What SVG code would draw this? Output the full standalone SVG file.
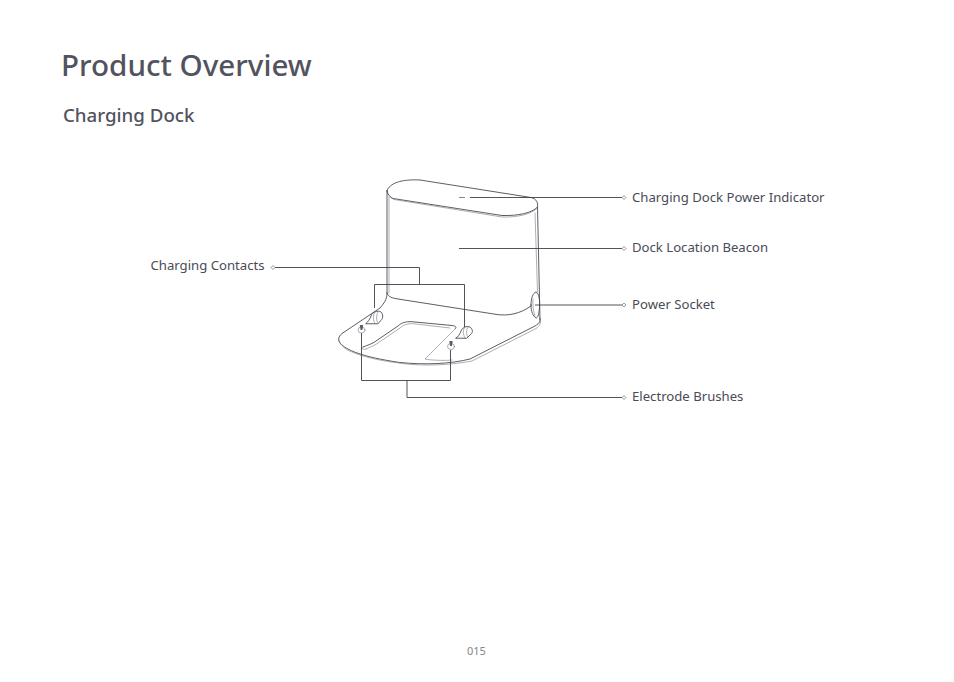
<svg xmlns="http://www.w3.org/2000/svg" width="954" height="682" viewBox="0 0 954 682">
<style>
text{font-family:"Noto Sans","Open Sans",sans-serif;fill:#4a4b57}
.l{font-size:13.15px}
.h{font-weight:500;fill:#52535e}
.d{fill:none;stroke:#4a4b55;stroke-width:.9;stroke-linejoin:round;stroke-linecap:round}
.f{fill:none;stroke:#77787f;stroke-width:.6;stroke-linecap:round}
.c{fill:none;stroke:#3f404a;stroke-width:.9}
.m{fill:#fff;stroke:#55565f;stroke-width:.6}
</style>
<rect width="954" height="682" fill="#fff"/>
<text class="h" x="61" y="76" font-size="29.6">Product Overview</text>
<text class="h" x="63" y="122" font-size="18.700">Charging Dock</text>
<g id="dock">
<path class="d" d="M387 191C389 183 402 179 420 180L531 197.500C537 199 538 203 537.500 207C532 213 518 216 502 215.500L393 198.500C390 197 388 195 387 191Z"/>
<path class="f" d="M387.500 193C389 196 391 198 394 199.500L502 217C518 217.500 532 214 537.500 208"/>
<path class="d" d="M387 191V293M537.500 207L540 320"/>
<path class="f" d="M389 197V293M535 213L537.500 292"/>
<path class="d" d="M387 293C388 297 392 298 398 299L497 314.500C508 316 520 314 531 306"/>
<path class="d" d="M387 293C387 300 384 303 380 308L342 333.500C338 337 338 340 340 343C346 350 362 357 400 362.500C425 365 450 364 470 359L535 326C540 323 540.500 321 540 318"/>
<path class="f" d="M338.500 338C339 343 342 346 346 349C360 357 385 362 412 364.500C435 366 456 364 472 361L536 328.500C540 326 541 323 540.500 320"/>
<path class="d" d="M531 305C531 298 533 293 536 292C539 293 540 300 539.500 307C539 314 538 318 536 318C533 316 531 312 531 305Z"/>
<path class="f" d="M533 299C532.500 304 533 310 535 316"/>
<path class="d" d="M366 323.500C368 322 370 319 371 316C372 312 378 310 381 312C383 314 383.500 318 381 320.500L378 323.500Z"/>
<path class="f" d="M375 312C372.500 316 373 320 375 323.500M378 312C376 316 376 320 378 323.500"/>
<path class="d" d="M456 338C458 337 460 334 461 331C463 326 469 325.500 471 328C473 330 473 333 470 335L467 338Z"/>
<path class="f" d="M465 327C462.500 330 463 334 465 338M468 327C466 330 466 334 468 338"/>
<path class="d" d="M363 347C368 345 372 344 376 341L398 326C402 322 408 321 415 322L452 325.500C456 326 457 327 455 329"/>
<path class="f" d="M366 349C370 347 374 346 378 343L400 328C404 324 410 323 416 324L450 328"/>
<path class="f" d="M363 347C361 349 363 350 366 349"/>
<path class="f" d="M455 329L425 359C428 360 445 361 452 360"/>
<ellipse class="f" cx="361.500" cy="330" rx="3.500" ry="3"/>
<ellipse class="f" cx="451" cy="346.500" rx="3.500" ry="3"/>
<path d="M359.800 325h3.400l-.8 5h-1.800zM449.300 341h3.400l-.8 5h-1.800z" fill="#5a5b64"/>
<path d="M459 197.500h6" stroke="#666" stroke-width=".8" fill="none"/>
</g>
<g id="connectors">
<path class="c" d="M470 197.500H622"/>
<path class="c" d="M459 248.500H622"/>
<path class="c" d="M535 305H622"/>
<path class="c" d="M275 267.500H419.500V284.500M374.500 308V284.500H464.500V327"/>
<path class="c" d="M361.500 333V380.500H450.500V350M407 380.500V397.500H622"/>
</g>
<g id="markers">
<path class="m" d="M622 197.500l2-2 2 2-2 2zM622 248.500l2-2 2 2-2 2zM622 305l2-2 2 2-2 2zM622 397.500l2-2 2 2-2 2zM271 267.500l2-2 2 2-2 2z"/>
</g>
<g id="power-indicator"><text class="l" x="632" y="202">Charging Dock Power Indicator</text></g>
<g id="beacon"><text class="l" x="632" y="252">Dock Location Beacon</text></g>
<g id="socket"><text class="l" x="632" y="309">Power Socket</text></g>
<g id="brushes"><text class="l" x="632" y="401">Electrode Brushes</text></g>
<g id="contacts"><text class="l" x="150.500" y="270">Charging Contacts</text></g>
<text x="467" y="655" font-size="11" style="fill:#85868d">015</text>
</svg>
